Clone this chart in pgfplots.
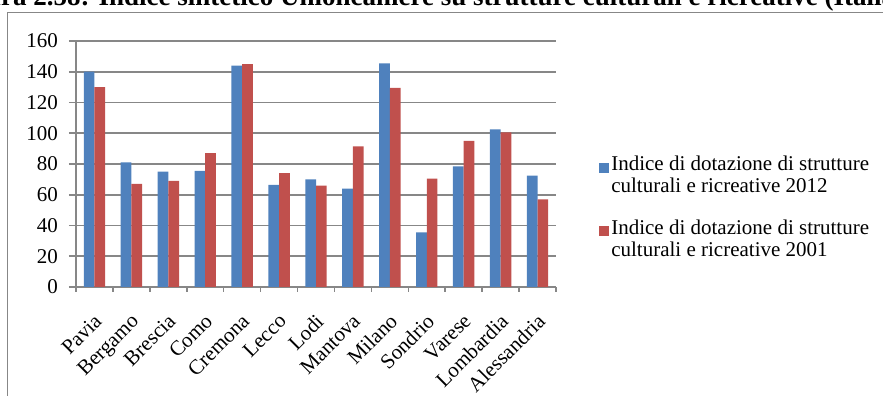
\documentclass[border=0pt]{standalone}
\usepackage{pgfplots}
\pgfplotsset{compat=1.18}
\usepackage{fontspec}
\setmainfont{Liberation Serif}
\definecolor{bblue}{HTML}{4F81BD}
\definecolor{bred}{HTML}{C0504D}
\definecolor{gridgray}{HTML}{878787}
\begin{document}
\fontsize{21}{22}\selectfont
\begin{tikzpicture}[x=1pt,y=1pt]
\clip (0,0) rectangle (883,396);
\node[anchor=base west, font=\fontsize{27}{29}\selectfont\bfseries, inner sep=0pt] at (1,390) {\makebox[0pt][r]{Figu}ra 2.58: Indice sintetico Unioncamere su strutture culturali e ricreative (Italia = 100)};
\draw[gridgray, line width=1pt] (7.5,-10) -- (7.5,383.5) -- (900,383.5);
\begin{axis}[
  at={(76pt,109pt)}, anchor=south west,
  scale only axis, width=480pt, height=246pt,
  xmin=-0.5, xmax=12.5, ymin=0, ymax=160,
  ybar=0pt, bar width=10.7pt,
  axis x line*=bottom, axis y line*=left,
  axis line style={gridgray, line width=1.6pt, -},
  ymajorgrids, grid style={gridgray, line width=1.6pt},
  ytick={0,20,...,160},
  xtick={0,...,12},
  xticklabels={Pavia,Bergamo,Brescia,Como,Cremona,Lecco,Lodi,Mantova,Milano,Sondrio,Varese,Lombardia,Alessandria},
  minor xtick={-0.5,0.5,...,12.5},
  tick align=outside, major tick length=7pt, minor tick length=5pt,
  tick style={gridgray, line width=1.6pt},
  major x tick style={draw=none},
  ticklabel style={font=\fontsize{21}{22}\selectfont},
  /pgf/number format/assume math mode=true,
  xticklabel style={anchor=north east, inner sep=0pt, xshift=-1.5pt, yshift=-18.5pt, rotate=45},
  yticklabel style={anchor=east, inner sep=0pt, xshift=-11pt},
  legend image code/.code={\fill[#1, draw=none] (-3.3pt,3pt) rectangle (6.7pt,13pt);},
  legend style={draw=none, fill=none, at={(1.0898,0.542)}, anchor=north west, inner sep=0pt,
    font=\fontsize{21}{22}\selectfont, row sep=20pt, cells={align=left}},
  legend cell align=left,
]
\addplot[fill=bblue, draw=none] coordinates {(0,140) (1,81) (2,75) (3,75.5) (4,144) (5,66.5) (6,70) (7,64) (8,145.5) (9,35.5) (10,78.5) (11,102.5) (12,72.5)};
\addplot[fill=bred, draw=none] coordinates {(0,130) (1,67) (2,69) (3,87) (4,145) (5,74) (6,66) (7,91.5) (8,129.5) (9,70.5) (10,95) (11,100.5) (12,57)};
\legend{Indice di dotazione di strutture\\culturali e ricreative 2012, Indice di dotazione di strutture\\culturali e ricreative 2001}
\end{axis}
\end{tikzpicture}
\end{document}
